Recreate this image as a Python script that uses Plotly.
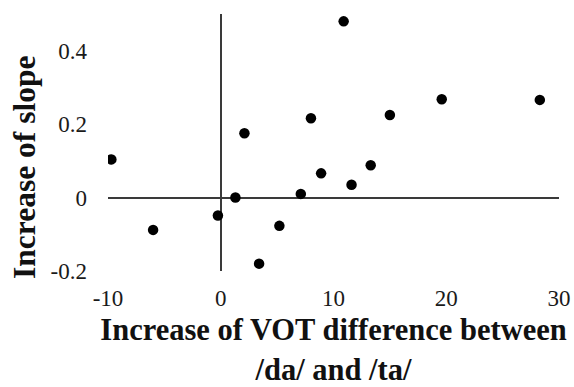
import plotly.graph_objects as go

vot_increase = [-9.7, -6.0, -0.25, 1.3, 2.1, 3.4, 5.2, 7.1, 8.0, 8.9, 10.9, 11.6, 13.3, 15.0, 19.6, 28.3]
slope_increase = [0.104, -0.088, -0.049, 0.0, 0.175, -0.18, -0.077, 0.01, 0.216, 0.066, 0.48, 0.035, 0.088, 0.225, 0.268, 0.266]

x_ticks = [-10, 0, 10, 20, 30]
x_tick_labels = ["-10", "0", "10", "20", "30"]
y_ticks = [-0.2, 0, 0.2, 0.4]
y_tick_labels = ["-0.2", "0", "0.2", "0.4"]

FONT = "Liberation Serif, Times New Roman, serif"

fig = go.Figure(
    go.Scatter(
        x=vot_increase,
        y=slope_increase,
        mode="markers",
        marker=dict(color="black", size=10.5),
        showlegend=False,
    )
)

fig.update_layout(
    width=574,
    height=387,
    margin=dict(l=108, r=15, t=14, b=116),
    paper_bgcolor="white",
    plot_bgcolor="white",
    font=dict(family=FONT, color="#1a1a1a"),
    xaxis=dict(
        range=[-10, 30],
        tickvals=x_ticks,
        ticktext=x_tick_labels,
        automargin=False,
        showgrid=False,
        showline=False,
        zeroline=True,
        zerolinecolor="#3a3a3a",
        zerolinewidth=1.5,
        ticks="",
        ticklabelstandoff=11,
        tickfont=dict(size=23, family=FONT, color="#1a1a1a"),
        title=dict(
            text="<b>Increase of VOT difference between<br>/da/ and /ta/</b>",
            font=dict(size=30.5, family=FONT, color="#111111"),
            standoff=32,
        ),
    ),
    yaxis=dict(
        range=[-0.2, 0.5],
        tickvals=y_ticks,
        ticktext=y_tick_labels,
        automargin=False,
        showgrid=False,
        showline=False,
        zeroline=True,
        zerolinecolor="#3a3a3a",
        zerolinewidth=1.5,
        ticks="",
        ticklabelstandoff=20,
        tickfont=dict(size=23, family=FONT, color="#1a1a1a"),
    ),
    annotations=[
        dict(
            text="<b>Increase of slope</b>",
            xref="paper",
            yref="paper",
            x=-0.184,
            y=0.401,
            xanchor="center",
            yanchor="middle",
            textangle=-90,
            showarrow=False,
            font=dict(size=31.5, family=FONT, color="#111111"),
        )
    ],
)

fig.write_html(
    "out.html",
    config={"displayModeBar": False},
    post_script="document.body.style.margin='0px';",
)
